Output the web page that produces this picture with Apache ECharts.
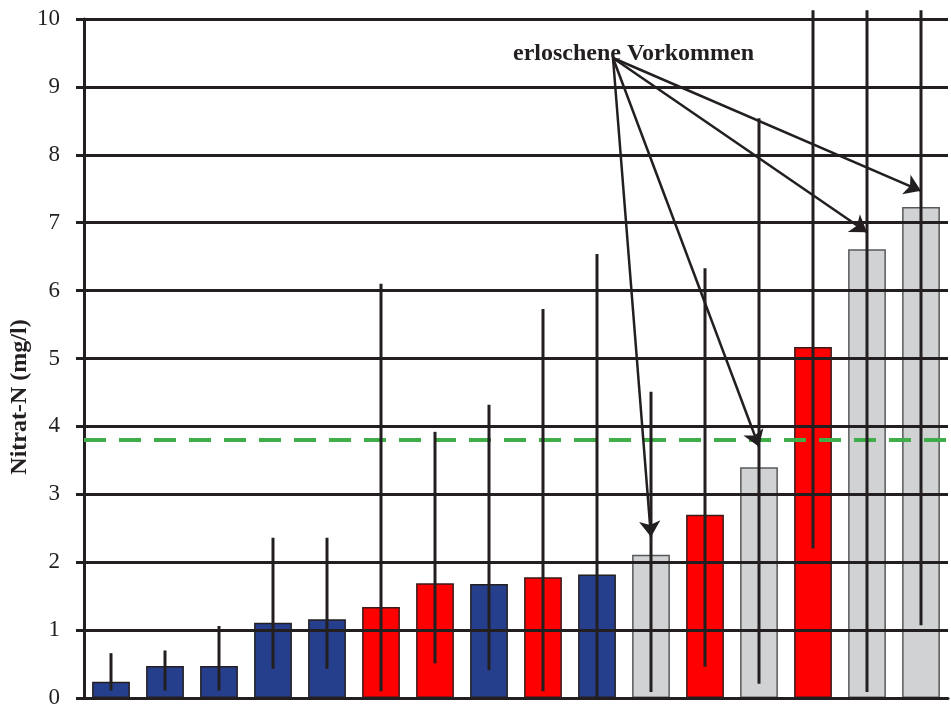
<!DOCTYPE html>
<html>
<head>
<meta charset="utf-8">
<script src="https://cdn.jsdelivr.net/npm/echarts@6/dist/echarts.min.js"></script>
<style>
  html, body { margin: 0; background: #fff; }
  #chart { width: 951px; height: 710px; }
</style>
</head>
<body>
<div id="chart"></div>
<script>
const sites = ['1', '2', '3', '4', '5', '6', '7', '8', '9', '10', '11', '12', '13', '14', '15', '16']
const groups = ['blue', 'blue', 'blue', 'blue', 'blue', 'red', 'red', 'blue', 'red', 'blue', 'grey', 'red', 'grey', 'red', 'grey', 'grey']
const means = [0.24, 0.47, 0.47, 1.11, 1.16, 1.34, 1.69, 1.68, 1.78, 1.82, 2.11, 2.70, 3.40, 5.17, 6.61, 7.23]
const errLow = [0.11, 0.11, 0.11, 0.43, 0.43, 0.10, 0.51, 0.41, 0.10, -0.03, 0.09, 0.46, 0.21, 2.20, 0.09, 1.07]
const errHigh = [0.66, 0.70, 1.06, 2.36, 2.36, 6.10, 3.92, 4.32, 5.73, 6.54, 4.51, 6.33, 8.54, 10.13, 10.13, 10.13]
const yTicks = [1, 2, 3, 4, 5, 6, 7, 8, 9, 10]
const threshold = 3.81
const extinctSites = ['11', '13', '15', '16']
const arrowTips = [2.37, 3.70, 6.86, 7.47]

const fill = { blue: '#263f8d', red: '#ff0000', grey: '#d1d2d4' }
const edge = { blue: '#231f20', red: '#3a1a1a', grey: '#58595b' }
const ink = '#231f20'
const serif = '"Liberation Serif", "Times New Roman", serif'

const chart = echarts.init(document.getElementById('chart'))

const baseX = {
  type: 'category',
  data: sites,
  position: 'bottom',
  axisLabel: { show: false },
  splitLine: { show: false },
  z: 3,
}

// gridlines sit on top of the bars in the original, so they go in as mark lines
const gridLines = yTicks.map((v) => ({ yAxis: v }))

chart.setOption({
  animation: false,
  grid: { left: 84, right: 3, top: 19, bottom: 12 },
  xAxis: [
    {
      ...baseX,
      axisLine: { lineStyle: { color: ink, width: 3 } },
      axisTick: { length: 12, lineStyle: { color: ink, width: 3 } },
    },
    {
      ...baseX,
      axisLine: { show: false },
      axisTick: { inside: true, length: 9, lineStyle: { color: ink, width: 3 } },
    },
  ],
  yAxis: {
    type: 'value',
    min: 0,
    max: 10,
    interval: 1,
    z: 3,
    axisLine: { show: true, lineStyle: { color: ink, width: 3 } },
    axisTick: { show: true, length: 8, lineStyle: { color: ink, width: 3 } },
    axisLabel: { color: ink, fontSize: 23, fontFamily: serif, margin: 24 },
    splitLine: { lineStyle: { color: ink, width: 3 } },
  },
  graphic: [
    {
      type: 'text',
      x: 20,
      y: 397,
      rotation: Math.PI / 2,
      style: {
        text: 'Nitrat-N (mg/l)',
        font: 'bold 24px ' + serif,
        fill: ink,
        align: 'center',
        verticalAlign: 'middle',
      },
    },
    {
      type: 'text',
      left: 513,
      top: 42,
      z: 10,
      style: { text: 'erloschene Vorkommen', font: 'bold 24px ' + serif, fill: ink },
    },
  ],
  series: [
    {
      type: 'bar',
      data: means.map((v, i) => ({
        value: v,
        itemStyle: { color: fill[groups[i]], borderColor: edge[groups[i]], borderWidth: 1.5 },
      })),
      barCategoryGap: '30%',
      markLine: {
        silent: true,
        symbol: 'none',
        label: { show: false },
        lineStyle: { color: ink, width: 3, type: 'solid' },
        data: [
          ...gridLines,
          { yAxis: threshold, lineStyle: { color: '#3fae49', width: 4, type: [22, 13] } },
        ],
      },
    },
    {
      type: 'custom',
      z: 6,
      clip: false,
      data: sites.map((s, i) => [i, errLow[i], errHigh[i]]),
      encode: { x: 0, y: [1, 2] },
      renderItem: (params, api) => {
        const lo = api.coord([api.value(0), api.value(1)])
        const hi = api.coord([api.value(0), api.value(2)])
        return {
          type: 'line',
          shape: { x1: lo[0], y1: lo[1], x2: hi[0], y2: hi[1] },
          style: { stroke: ink, lineWidth: 3 },
        }
      },
      markLine: {
        silent: true,
        symbol: ['none', 'arrow'],
        symbolSize: 16,
        label: { show: false },
        lineStyle: { color: ink, width: 2.5, type: 'solid' },
        data: extinctSites.map((s, i) => [
          { x: 613, y: 58 },
          { coord: [s, arrowTips[i]] },
        ]),
      },
    },
  ],
})

window.addEventListener('resize', () => chart.resize())
</script>
</body>
</html>
